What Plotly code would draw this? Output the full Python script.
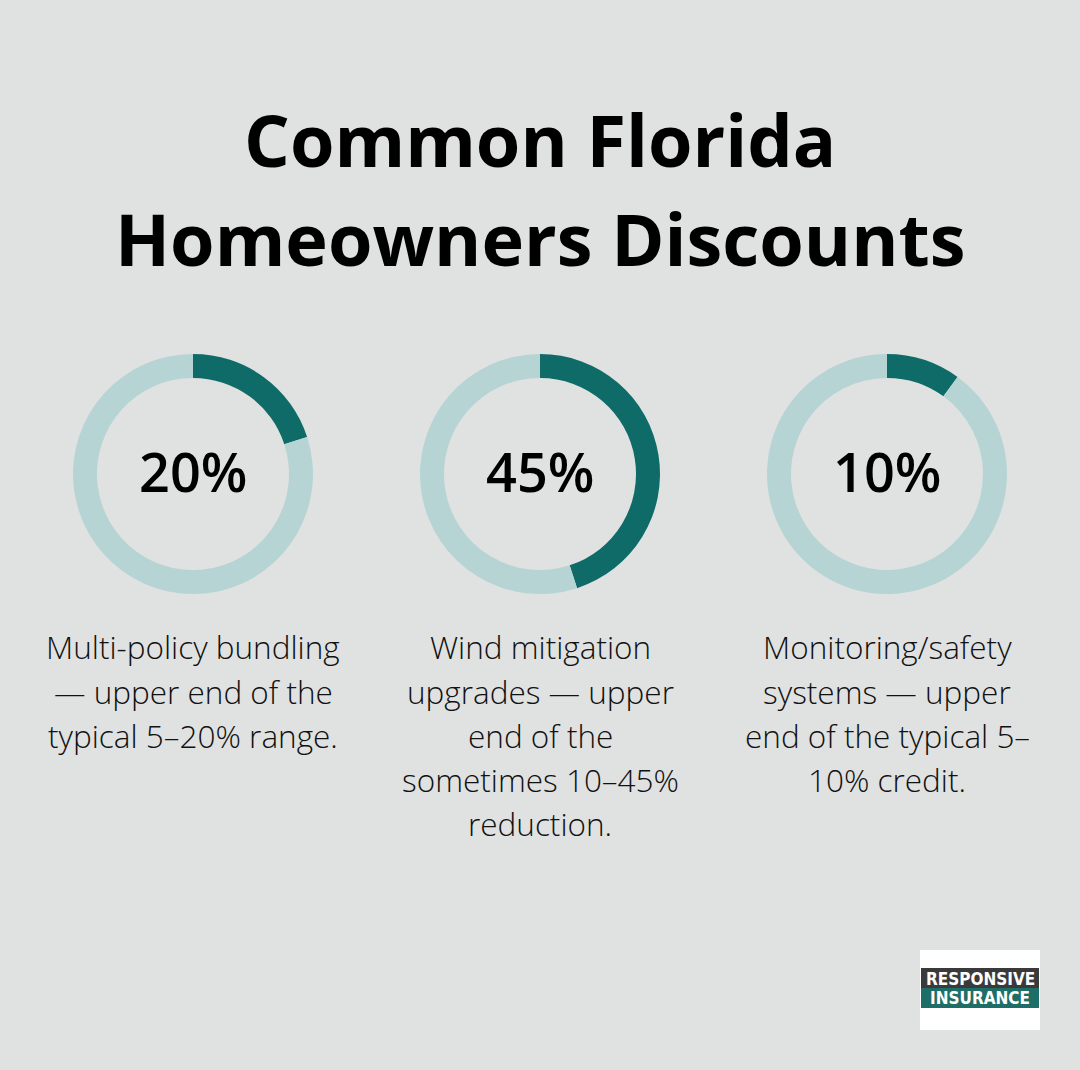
import plotly.graph_objects as go

# Data
percentages = [20, 45, 10]
labels = ["20%", "45%", "10%"]
captions = [
    ["Multi-policy bundling", "— upper end of the", "typical 5–20% range."],
    ["Wind mitigation", "upgrades — upper", "end of the", "sometimes 10–45%", "reduction."],
    ["Monitoring/safety", "systems — upper", "end of the typical 5–", "10% credit."],
]
title_lines = ["Common Florida", "Homeowners Discounts"]

W, H = 1080, 1070
BG = "#E0E2E1"
DARK = "#0F6B68"
LIGHT = "#B7D4D5"

centers_x = [193, 540, 887]
cy = 474
R = 120


def px(x):
    return x / W


def py(y):
    return (H - y) / H


fig = go.Figure()
for i, (p, cx) in enumerate(zip(percentages, centers_x)):
    fig.add_trace(go.Pie(
        values=[p, 100 - p],
        marker=dict(colors=[DARK, LIGHT], line=dict(width=0)),
        hole=0.8,
        sort=False,
        direction="clockwise",
        rotation=0,
        textinfo="none",
        hoverinfo="skip",
        showlegend=False,
        domain=dict(x=[px(cx - R), px(cx + R)], y=[py(cy + R), py(cy - R)]),
    ))
    fig.add_annotation(x=px(cx), y=py(cy - 3), xref="paper", yref="paper",
                       text=labels[i], showarrow=False,
                       font=dict(family="Open Sans", size=54, color="#000000", weight=600),
                       xanchor="center", yanchor="middle")
    for j, line in enumerate(captions[i]):
        fig.add_annotation(x=px(cx), y=py(647 + 44 * j), xref="paper", yref="paper",
                           text=line, showarrow=False, align="center",
                           font=dict(family="Open Sans", size=31.5, color="#111111", weight=300),
                           xanchor="center", yanchor="middle")

for k, (t, yc) in enumerate(zip(title_lines, [139, 238])):
    fig.add_annotation(x=0.5, y=py(yc), xref="paper", yref="paper",
                       text="<b>" + t + "</b>", showarrow=False,
                       font=dict(family="Open Sans", size=72, color="#000000"),
                       xanchor="center", yanchor="middle")

# Logo
fig.add_shape(type="rect", xref="paper", yref="paper", x0=px(920), x1=px(1040), y0=py(1030), y1=py(950),
              fillcolor="#FFFFFF", line=dict(width=0), layer="above")
fig.add_shape(type="rect", xref="paper", yref="paper", x0=px(921), x1=px(1039), y0=py(988), y1=py(968),
              fillcolor="#3A3A3A", line=dict(width=0), layer="above")
fig.add_shape(type="rect", xref="paper", yref="paper", x0=px(921), x1=px(1039), y0=py(1008), y1=py(988),
              fillcolor="#1E6E68", line=dict(width=0), layer="above")
fig.add_annotation(x=px(980), y=py(979), xref="paper", yref="paper", text="RESPONSIVE",
                   showarrow=False, font=dict(family="DejaVu Sans Condensed", size=17, color="#FFFFFF", weight=600),
                   xanchor="center", yanchor="middle")
fig.add_annotation(x=px(980), y=py(998), xref="paper", yref="paper", text="INSURANCE",
                   showarrow=False, font=dict(family="DejaVu Sans Condensed", size=17, color="#FFFFFF", weight=600),
                   xanchor="center", yanchor="middle")

fig.update_layout(width=W, height=H, margin=dict(l=0, r=0, t=0, b=0),
                  paper_bgcolor=BG, plot_bgcolor=BG)
fig.write_html("out.html")
